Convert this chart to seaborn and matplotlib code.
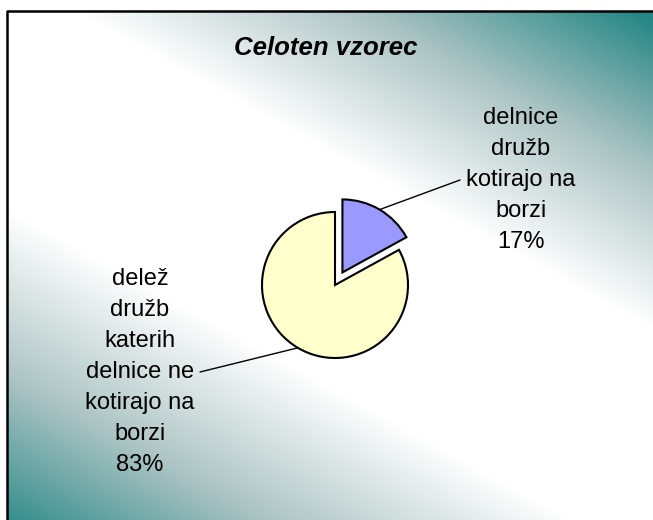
import matplotlib
matplotlib.use("Agg")
import matplotlib.pyplot as plt
import numpy as np
import seaborn as sns

# podatki
naslov = "Celoten vzorec"
oznake = ["delnice\ndružb\nkotirajo na\nborzi",
          "delež\ndružb\nkaterih\ndelnice ne\nkotirajo na\nborzi"]
delezi = [17, 83]
barve = ["#9999FF", "#FFFFCC"]

sns.set_style("white")
plt.rcParams['font.family'] = ['Liberation Sans', 'DejaVu Sans']
plt.rcParams['text.color'] = 'black'

W, H = 653, 520
fig = plt.figure(figsize=(W / 100, H / 100), dpi=100)

# ozadje z diagonalnim prelivom (belo po sredini, modrozeleno v kotih)
bg = fig.add_axes([0, 0, 1, 1])
bg.set_xlim(0, W)
bg.set_ylim(H, 0)
bg.axis("off")
xx, yy = np.meshgrid(np.arange(7, W + 1), np.arange(11, H + 1))
s = yy - 0.55 * xx
f = np.maximum(np.clip((-30 - s) / 310, 0, 1), np.clip((s - 205) / 330, 0, 1))
bela = np.array([1.0, 1.0, 1.0])
siva = np.array([0.68, 0.77, 0.77])
teal = np.array([0.14, 0.53, 0.52])
f3 = f[..., None]
img = np.where(f3 < 0.5,
               bela + (siva - bela) * (f3 / 0.5),
               siva + (teal - siva) * ((f3 - 0.5) / 0.5))
bg.imshow(img, extent=(7, W + 1, H + 1, 11), aspect="auto", zorder=0)
bg.plot([7, 7, W + 5], [H + 5, 11, 11], color="black", lw=1.8, zorder=1)

bg.text(326, 48, naslov, ha="center", va="center", fontsize=18.5,
        fontweight="bold", fontstyle="italic", color="black")

# tortni diagram
cx, cy, r = 335, 285, 73
ax = fig.add_axes([(cx - 1.5 * r) / W, (H - cy - 1.5 * r) / H, 3 * r / W, 3 * r / H])
wedges, _ = ax.pie(delezi, colors=barve, startangle=90, counterclock=False,
                   explode=(0.2, 0), wedgeprops=dict(edgecolor="black", linewidth=1.5))
ax.set_xlim(-1.5, 1.5)
ax.set_ylim(-1.5, 1.5)
ax.axis("off")

skupaj = sum(delezi)
konci = [((460 - cx) / r, (cy - 180) / r), ((200 - cx) / r, (cy - 372) / r)]
besedila = [((521 - cx) / r, (cy - 180) / r), ((140 - cx) / r, (cy - 372) / r)]
for w, oz, v, k, b in zip(wedges, oznake, delezi, konci, besedila):
    kot = np.deg2rad((w.theta1 + w.theta2) / 2)
    sx = w.center[0] + w.r * np.cos(kot)
    sy = w.center[1] + w.r * np.sin(kot)
    ax.plot([sx, k[0]], [sy, k[1]], color="black", lw=1, clip_on=False)
    ax.text(b[0], b[1], oz + "\n" + f"{v / skupaj:.0%}", ha="center", va="center",
            fontsize=17, linespacing=1.52, color="black", clip_on=False)

fig.savefig("out.png", dpi=100)
